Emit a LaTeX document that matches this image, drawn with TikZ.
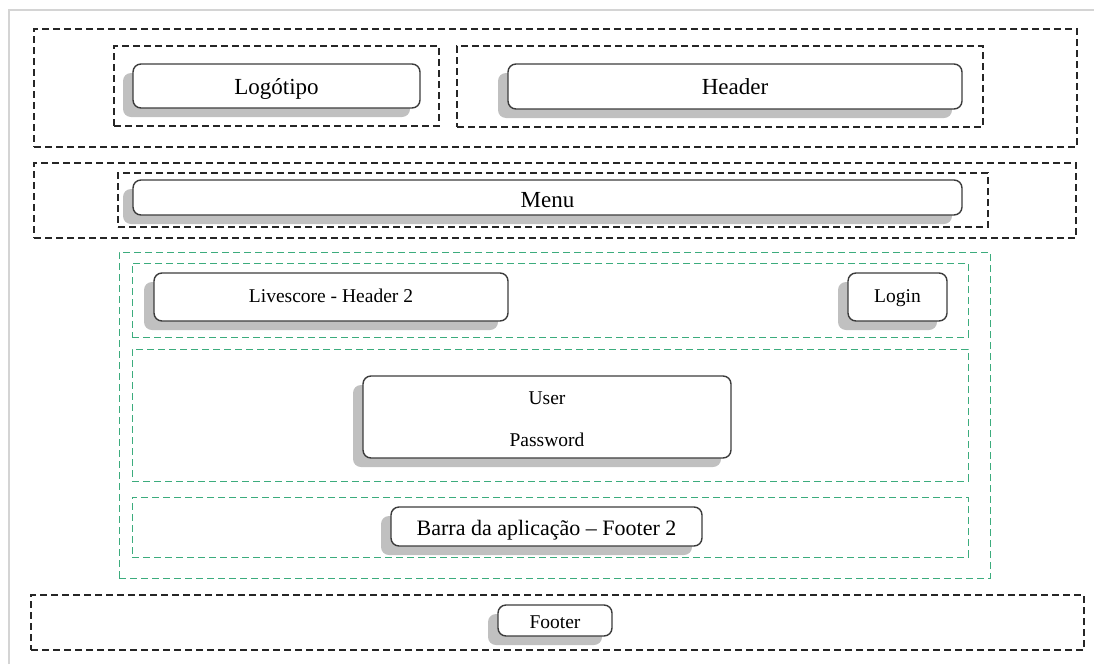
\documentclass[tikz,border=0pt]{standalone}
\usepackage{fontspec}
\setmainfont{Liberation Serif}
\newfontfamily\cardfont{Liberation Serif}
\usetikzlibrary{shadows}

\definecolor{framegray}{RGB}{212,212,212}
\definecolor{cardline}{RGB}{60,60,60}
\definecolor{cardshadow}{RGB}{192,192,192}
\definecolor{zonegreen}{RGB}{60,172,125}

\tikzset{
  band/.style={draw=black!85, line width=1.4pt, dash pattern=on 7pt off 4pt,
    inner sep=0pt, outer sep=0pt},
  zone/.style={draw=zonegreen, line width=1pt, dash pattern=on 7pt off 4pt,
    inner sep=0pt, outer sep=0pt},
  card/.style={draw=cardline, fill=white, line width=1.4pt, rounded corners=8pt,
    inner sep=0pt, outer sep=0pt,
    drop shadow={shadow xshift=-10pt, shadow yshift=-9pt, fill=cardshadow, opacity=1}},
  % baseline sits #1 below the card centre
  drop base/.style={text height=2*#1 pt, text depth=0pt},
  bigtext/.style={font=\cardfont\fontsize{23}{27}\selectfont},
  smalltext/.style={font=\cardfont\fontsize{19.5}{23}\selectfont},
  label/.style={font=\cardfont\fontsize{19.5}{23}\selectfont, inner sep=0pt, anchor=base},
}

\begin{document}
\begin{tikzpicture}[x=1pt, y=-1pt]
\useasboundingbox (0,0) rectangle (1094,664);

% page frame
\coordinate (fbl) at (9,664);
\coordinate (ftl) at (9,10);
\coordinate (ftr) at (1094,10);
\draw[framegray, line width=1.5pt] (fbl) -- (ftl) -- (ftr);

% top band: logo + header
\node[band, minimum width=1043pt, minimum height=118pt] (topband) at (555.5,88) {};
\node[band, minimum width=325pt, minimum height=80pt] (logoarea) at (276.5,86) {};
\node[card, bigtext, drop base=8, minimum width=287pt, minimum height=44pt] (logo) at (276.5,86) {Logótipo};
\node[band, minimum width=526pt, minimum height=81pt] (headerarea) at (720,86.5) {};
\node[card, bigtext, drop base=7.5, minimum width=454pt, minimum height=45pt] (header) at (735,86.5) {Header};

% menu band
\node[band, minimum width=1042pt, minimum height=75pt] (menuband) at (555,200.5) {};
\node[band, minimum width=870pt, minimum height=54pt] (menuarea) at (553,200) {};
\node[card, bigtext, drop base=10, minimum width=829pt, minimum height=35pt] (menu) at (547.5,197.5) {Menu};

% content area
\node[zone, minimum width=871pt, minimum height=326pt] (content) at (554.5,415) {};
\node[zone, minimum width=836pt, minimum height=74pt] (rowtop) at (550,300) {};
\node[card, smalltext, drop base=5, minimum width=354pt, minimum height=48pt] (livescore) at (331,297) {Livescore - Header 2};
\node[card, smalltext, drop base=5, minimum width=99pt, minimum height=48pt] (login) at (897.5,297) {Login};

\node[zone, minimum width=836pt, minimum height=132pt] (rowmid) at (550,415) {};
\node[card, minimum width=368pt, minimum height=82pt] (credentials) at (547,417) {};
\node[label] (user) at ([yshift=12.7pt]credentials.center) {User};
\node[label] (password) at ([yshift=-29pt]credentials.center) {Password};

\node[zone, minimum width=836pt, minimum height=60pt] (rowbottom) at (550,527) {};
\node[card, font=\cardfont\fontsize{22}{26}\selectfont, drop base=8.5, minimum width=311pt, minimum height=39pt] (appbar) at (546.5,526.5) {Barra da aplicação – Footer 2};

% footer band
\node[band, minimum width=1053pt, minimum height=55pt] (footerband) at (557.5,622.5) {};
\node[card, smalltext, drop base=7.5, minimum width=114pt, minimum height=31pt] (footer) at (555,620.5) {Footer};
\end{tikzpicture}
\end{document}
